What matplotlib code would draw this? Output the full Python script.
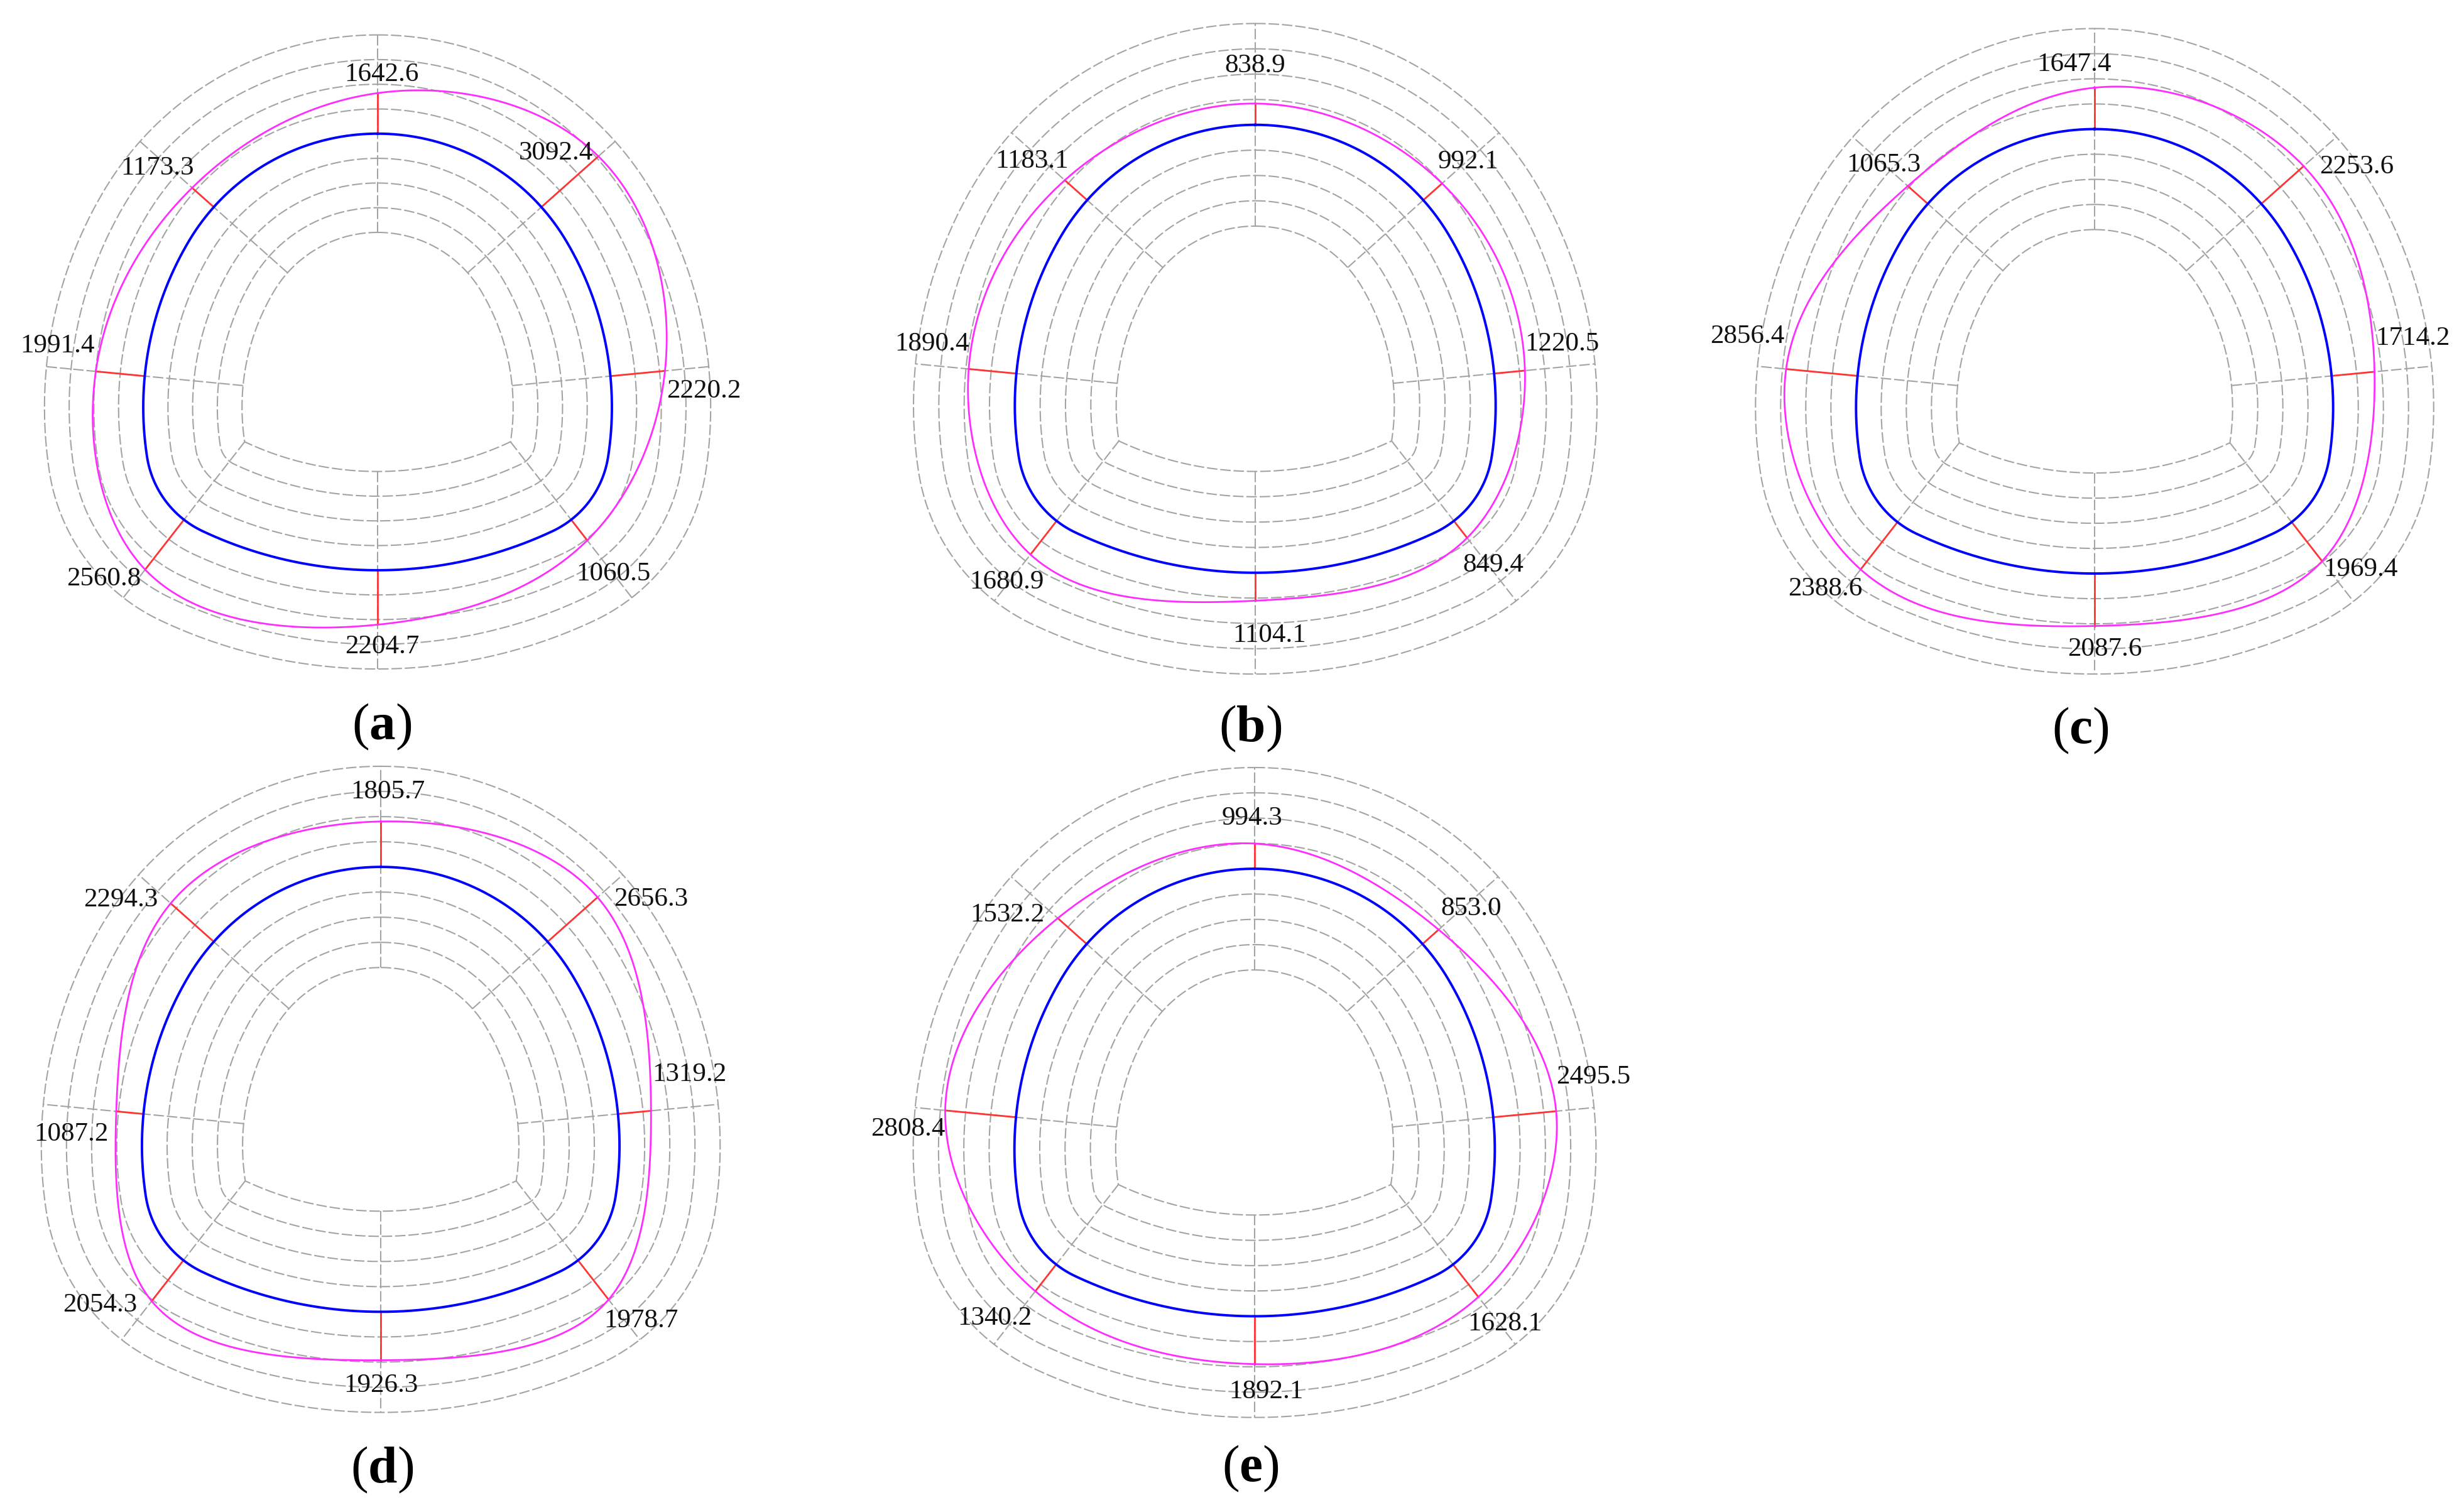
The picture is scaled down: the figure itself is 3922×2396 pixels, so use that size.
"""Tunnel-profile radar charts: eight radial readings per section."""

import matplotlib

matplotlib.use("Agg")
import matplotlib.pyplot as plt
import numpy as np

# ------------------------------------------------------------------
# Data: readings ordered clockwise from the crown
# (top, upper-right, right, lower-right, bottom, lower-left, left, upper-left)
# ------------------------------------------------------------------
panel_names = ["a", "b", "c", "d", "e"]
values_a = [1642.6, 3092.4, 2220.2, 1060.5, 2204.7, 2560.8, 1991.4, 1173.3]
values_b = [838.9, 992.1, 1220.5, 849.4, 1104.1, 1680.9, 1890.4, 1183.1]
values_c = [1647.4, 2253.6, 1714.2, 1969.4, 2087.6, 2388.6, 2856.4, 1065.3]
values_d = [1805.7, 2656.3, 1319.2, 1978.7, 1926.3, 2054.3, 1087.2, 2294.3]
values_e = [994.3, 853.0, 2495.5, 1628.1, 1892.1, 1340.2, 2808.4, 1532.2]
panel_values = [values_a, values_b, values_c, values_d, values_e]

ring_step = 1000.0          # value between two neighbouring grid rings
ring_count = 8              # rings from the inner contour outward
profile_ring = 4            # ring that carries the tunnel profile

# ------------------------------------------------------------------
# Layout (pixels of the 3923 x 2396 output)
# ------------------------------------------------------------------
FIG_W, FIG_H = 3923, 2396
RING_PX = 39.3
panel_centers = [(601, 562), (1998, 557), (3334, 561), (606, 1736), (1997, 1741)]
panel_scales = [1.0, 1.026, 1.018, 1.019, 1.025]
caption_pos = [(608, 1157), (1990, 1160), (3311, 1163), (608, 2340), (1990, 2338)]

# label centre offset from the red end point, px (x right, y down)
label_offsets = [
    [(6, -29), (-67, -5), (62, 32), (42, 53), (7, 35), (-66, 15), (-61, -41), (-55, -31)],
    [(0, -60), (42, -34), (59, -42), (42, 43), (23, 55), (-38, 44), (-58, -40), (-52, -30)],
    [(-33, -37), (84, 1), (61, -53), (61, 13), (16, 37), (-56, 31), (-62, -52), (-38, -33)],
    [(11, -47), (85, 3), (61, -58), (52, 34), (0, 40), (-82, 6), (-72, 36), (-79, -5)],
    [(-4, -40), (52, -33), (59, -54), (42, 43), (18, 44), (-65, 43), (-59, 30), (-80, -5)],
]

# normal direction of each radial line, degrees, clockwise from the crown
radial_psi = [90.0, 41.7, 5.5, -52.1, -90.0, -127.9, -185.5, -221.7]

# template of the inner contour, in ring units (crown-arc centre at origin)
TOP_R = 4.886
WALL_C = np.array([3.70, -2.20])            # centre of the left wall arc
WALL_R = TOP_R + np.hypot(*WALL_C)
INV_C = np.array([0.0, 7.85])
INV_R = 12.65

GRAY = "#a3a3a3"
BLUE = "#0000ff"
RED = "#ff3535"
MAGENTA = "#ff2bff"

plt.rcParams["font.family"] = ["Liberation Serif", "DejaVu Serif"]
plt.rcParams["mathtext.fontset"] = "custom"
plt.rcParams["mathtext.rm"] = "Liberation Serif"
plt.rcParams["mathtext.bf"] = "Liberation Serif:bold"


def unit(psi_deg):
    """Unit vectors for angles given in degrees."""
    rad = np.radians(psi_deg)
    return np.stack([np.cos(rad), np.sin(rad)], axis=-1)


def circle_intersection(c0, r0, c1, r1):
    """Both intersection points of two circles."""
    delta = c1 - c0
    dist = np.hypot(*delta)
    a = (r0 ** 2 - r1 ** 2 + dist ** 2) / (2 * dist)
    h = np.sqrt(r0 ** 2 - a ** 2)
    mid = c0 + a * delta / dist
    perp = np.array([-delta[1], delta[0]]) / dist
    return mid + h * perp, mid - h * perp


wall_c_right = WALL_C * np.array([-1.0, 1.0])
corner_r = min(
    circle_intersection(wall_c_right, WALL_R, INV_C, INV_R),
    key=lambda p: p[1],
)
corner_l = corner_r * np.array([-1.0, 1.0])
theta_t = np.degrees(np.arctan2(-wall_c_right[1], -wall_c_right[0]))
theta_c = np.degrees(np.arctan2(*(corner_r - wall_c_right)[::-1]))
phi_c = np.degrees(np.arctan2(*(corner_r - INV_C)[::-1]))


def boundary(psi_deg):
    """Point of the inner contour whose outward normal has angle psi."""
    psi_deg = np.atleast_1d(psi_deg)
    u = unit(psi_deg)
    out = np.empty_like(u)
    segments = [
        (psi_deg >= theta_t, np.zeros(2), TOP_R),
        ((psi_deg < theta_t) & (psi_deg >= theta_c), wall_c_right, WALL_R),
        ((psi_deg < theta_c) & (psi_deg >= phi_c), corner_r, 0.0),
        ((psi_deg < phi_c) & (psi_deg >= -180 - phi_c), INV_C, INV_R),
        ((psi_deg < -180 - phi_c) & (psi_deg >= -180 - theta_c), corner_l, 0.0),
        ((psi_deg < -180 - theta_c) & (psi_deg >= -180 - theta_t), WALL_C, WALL_R),
        (psi_deg < -180 - theta_t, np.zeros(2), TOP_R),
    ]
    for mask, centre, radius in segments:
        out[mask] = centre + radius * u[mask]
    return out, u


def periodic_spline(knots, values, period, t_eval):
    """Periodic cubic spline through (knots, values)."""
    knots = np.asarray(knots, dtype=float)
    values = np.asarray(values, dtype=float)
    n = len(knots)
    h = np.diff(np.append(knots, knots[0] + period))
    mat = np.zeros((n, n))
    rhs = np.zeros(n)
    for k in range(n):
        hp, hk = h[k - 1], h[k]
        mat[k, (k - 1) % n] += hp
        mat[k, k] += 2 * (hp + hk)
        mat[k, (k + 1) % n] += hk
        rhs[k] = 6 * ((values[(k + 1) % n] - values[k]) / hk
                      - (values[k] - values[k - 1]) / hp)
    m = np.linalg.solve(mat, rhs)

    t = np.mod(t_eval - knots[0], period) + knots[0]
    idx = np.clip(np.searchsorted(knots, t, side="right") - 1, 0, n - 1)
    t0 = knots[idx]
    hk = h[idx]
    y0, y1 = values[idx], values[(idx + 1) % n]
    m0, m1 = m[idx], m[(idx + 1) % n]
    a = (t0 + hk - t)
    b = (t - t0)
    return (m0 * a ** 3 / (6 * hk) + m1 * b ** 3 / (6 * hk)
            + (y0 - m0 * hk ** 2 / 6) * a / hk
            + (y1 - m1 * hk ** 2 / 6) * b / hk)


def closed_curve(points, samples=1200):
    """Smooth closed curve through the points (chord-length spline)."""
    chord = np.hypot(*np.diff(np.vstack([points, points[:1]]), axis=0).T)
    knots = np.concatenate([[0], np.cumsum(chord)[:-1]])
    period = chord.sum()
    t = np.linspace(0, period, samples)
    x = periodic_spline(knots, points[:, 0], period, t)
    y = periodic_spline(knots, points[:, 1], period, t)
    return x, y


def draw_panel(fig, center, scale, values, offsets):
    """Draw one tunnel radar chart."""
    px = RING_PX * scale
    half = 680
    cx, cy = center
    ax = fig.add_axes([
        (cx - half) / FIG_W,
        1 - (cy + half) / FIG_H,
        2 * half / FIG_W,
        2 * half / FIG_H,
    ])
    ax.set_axis_off()
    ax.patch.set_alpha(0)

    psi = np.linspace(90, -270, 7201)
    anchors, normals = boundary(psi)

    dash = (0, (8, 2.2))
    for ring in range(ring_count + 1):
        if ring == profile_ring:
            continue
        pts = anchors + ring * normals
        ax.plot(pts[:, 0], pts[:, 1], color=GRAY, lw=1.5, ls=dash, zorder=1)

    k_anchor, k_normal = boundary(np.array(radial_psi))
    for a0, n0 in zip(k_anchor, k_normal):
        seg = np.array([a0, a0 + ring_count * n0])
        ax.plot(seg[:, 0], seg[:, 1], color=GRAY, lw=1.5, ls=dash, zorder=1)

    profile = anchors + profile_ring * normals
    ax.plot(profile[:, 0], profile[:, 1], color=BLUE, lw=2.8, zorder=3)

    reach = profile_ring + np.array(values) / ring_step
    ends = k_anchor + reach[:, None] * k_normal
    mx, my = closed_curve(ends)
    ax.plot(mx, my, color=MAGENTA, lw=2.0, zorder=4)

    for a0, n0, end, val, (dx, dy) in zip(k_anchor, k_normal, ends, values, offsets):
        start = a0 + profile_ring * n0
        ax.plot([start[0], end[0]], [start[1], end[1]],
                color=RED, lw=2.0, zorder=2.5)
        ax.annotate(
            f"{val:.1f}",
            xy=end,
            xytext=(dx, -dy),
            textcoords="offset pixels",
            ha="center",
            va="center",
            fontsize=31,
            color="#111111",
            zorder=5,
        )

    lim = half / px
    ax.set_xlim(-lim, lim)
    ax.set_ylim(-lim, lim)


fig = plt.figure(figsize=(FIG_W / 100, FIG_H / 100), dpi=100)

for name, center, scale, vals, offs, cap in zip(
    panel_names, panel_centers, panel_scales, panel_values, label_offsets, caption_pos
):
    draw_panel(fig, center, scale, vals, offs)
    fig.text(
        cap[0] / FIG_W,
        1 - cap[1] / FIG_H,
        "(" + r"$\mathbf{" + name + "}$" + ")",
        ha="center",
        va="center",
        fontsize=60,
        color="black",
    )

fig.savefig("out.png", dpi=100, facecolor="white")
plt.close(fig)
